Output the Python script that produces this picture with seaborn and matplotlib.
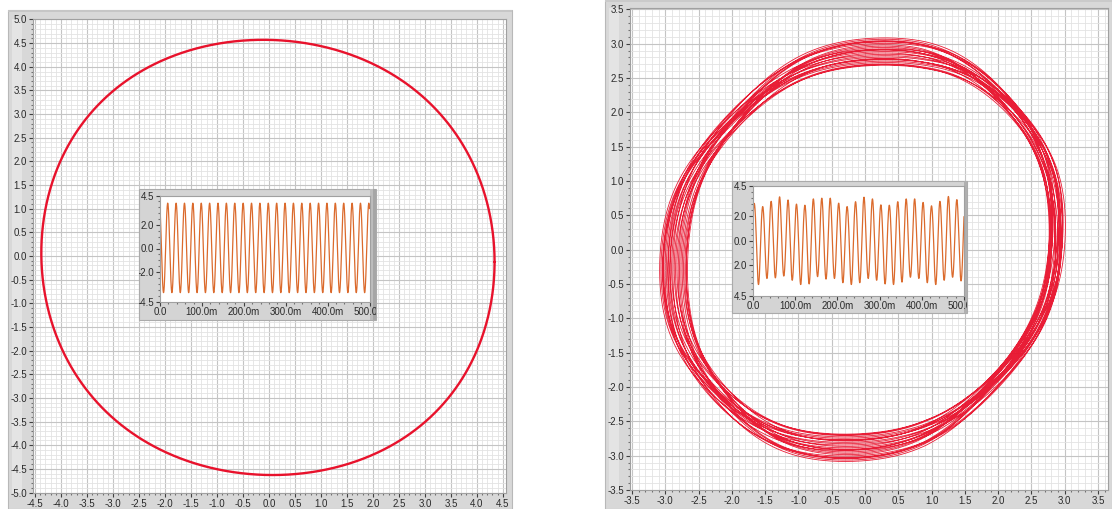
import numpy as np
import seaborn as sns
import matplotlib
matplotlib.use("Agg")
import matplotlib.pyplot as plt
from matplotlib.patches import Rectangle
from matplotlib.ticker import MultipleLocator, FuncFormatter
from matplotlib.transforms import Bbox, TransformedBbox

# ------------------------------------------------------------------
# Acquisition: two channels sampled for 500 ms at a 50 Hz fundamental
# ------------------------------------------------------------------
wave_freq_hz = 50.0
record_ms = 500.0

# Left graph: clean, steady signal pair
left_x_amp = 4.36
left_y_amp = 4.60
left_center = [-0.02, -0.03]
left_phase_skew = -0.02
left_squareness = 0.008

left_wave_amp = 3.80
left_wave_offset = 0.05
left_wave_phase = 0.50

# Right graph: the same measurement with cycle-to-cycle amplitude drift
right_x_amp = [2.95, 2.78, 3.05, 2.70, 2.88, 3.10, 2.82, 2.74, 3.00, 2.92,
               2.68, 2.97, 3.08, 2.80, 2.86, 3.04, 2.72, 2.90, 3.06, 2.76,
               2.84, 3.02, 2.94, 2.70, 2.98]
right_y_amp = [2.90, 3.05, 2.76, 2.98, 2.72, 2.86, 3.08, 2.80, 2.94, 2.70,
               3.00, 2.84, 2.78, 3.06, 2.92, 2.74, 2.96, 3.10, 2.82, 2.88,
               2.71, 3.02, 2.79, 2.93, 3.04]
right_phase_skew = 0.10
right_seventh_harmonic = -0.005

right_wave_peaks = [3.07, 2.81, 3.24, 3.61, 3.35, 3.01, 2.92, 3.44, 3.50, 3.50,
                    3.09, 2.81, 3.21, 3.58, 3.44, 2.95, 2.92, 3.21, 3.44, 3.44,
                    3.15, 2.87, 3.24, 3.64, 3.38]
right_wave_troughs = [-3.60, -3.10, -3.05, -2.90, -3.25, -3.60, -3.55, -2.95, -3.15, -3.10,
                      -3.45, -3.60, -3.45, -3.10, -3.25, -3.55, -3.60, -3.40, -3.00, -3.10,
                      -3.45, -3.60, -3.25, -3.00, -3.30]
right_wave_first_peak_ms = 3.0

# Axis ticks
inset_x_ticks = [0, 100, 200, 300, 400, 500]
inset_x_labels = ["0.0", "100.0m", "200.0m", "300.0m", "400.0m", "500.0m"]
inset_y_ticks = [-4.5, -2.0, 0.0, 2.0, 4.5]
left_inset_y_labels = ["-4.5", "-2.0", "0.0", "2.0", "4.5"]
right_inset_y_labels = ["4.5", "2.0", "0.0", "2.0", "4.5"]

# ------------------------------------------------------------------
W, H = 1112, 509
TRACE_RED = "#e8122c"
WAVE_ORANGE = "#db6a2c"
FRAME = "#d8d8d8"

sns.set_theme(style="white")
plt.rcParams["font.family"] = ["Liberation Sans Narrow", "Liberation Sans", "DejaVu Sans"]
plt.rcParams["axes.unicode_minus"] = False

fig = plt.figure(figsize=(W / 100, H / 100), dpi=100)
fig.patch.set_facecolor("white")


def fig_rect(x0, y0, x1, y1):
    return [x0 / W, 1 - y1 / H, (x1 - x0) / W, (y1 - y0) / H]


def add_box(x0, y0, x1, y1, color, z, edge="none", lw=0.8):
    r = Rectangle((x0 / W, 1 - y1 / H), (x1 - x0) / W, (y1 - y0) / H,
                  transform=fig.transFigure, facecolor=color, edgecolor=edge,
                  lw=lw, zorder=z)
    fig.add_artist(r)
    return r


fmt1 = FuncFormatter(lambda v, p: ("%.1f" % v).replace("-0.0", "0.0"))


def style_main(ax, xlim, ylim):
    ax.set_xlim(*xlim)
    ax.set_ylim(*ylim)
    ax.set_facecolor("white")
    for a in (ax.xaxis, ax.yaxis):
        a.set_major_locator(MultipleLocator(0.5))
        a.set_minor_locator(MultipleLocator(0.1))
        a.set_major_formatter(fmt1)
    ax.grid(which="major", color="#c4c4c4", lw=0.8)
    ax.grid(which="minor", color="#e3e3e3", lw=0.6)
    ax.set_axisbelow(True)
    ax.tick_params(which="major", direction="out", length=3, width=0.8,
                   color="#404040", labelsize=7, pad=1.2, labelcolor="#2a2a2a",
                   bottom=True, left=True)
    ax.tick_params(which="minor", direction="out", length=1.6, width=0.8,
                   color="#707070", bottom=True, left=True)
    for s in ax.spines.values():
        s.set_color("#a0a0a0")
        s.set_linewidth(0.8)
    ax.set_xlabel("")
    ax.set_ylabel("")


def style_inset(ax, ylabels):
    ax.set_xlim(0, record_ms)
    ax.set_ylim(-4.5, 4.5)
    ax.set_facecolor("white")
    ax.set_xticks(inset_x_ticks)
    ax.set_xticklabels(inset_x_labels)
    ax.set_yticks(inset_y_ticks)
    ax.set_yticklabels(ylabels)
    ax.xaxis.set_minor_locator(MultipleLocator(20))
    ax.yaxis.set_minor_locator(MultipleLocator(0.5))
    ax.grid(False)
    ax.tick_params(which="major", direction="out", length=3, width=0.8,
                   color="#404040", labelsize=7, pad=1.2, labelcolor="#2a2a2a",
                   bottom=True, left=True)
    ax.tick_params(which="minor", direction="out", length=1.6, width=0.8,
                   color="#707070", bottom=True, left=True)
    for s in ax.spines.values():
        s.set_color("#a0a0a0")
        s.set_linewidth(0.8)
    ax.set_xlabel("")
    ax.set_ylabel("")


# ---------------- panel frames ----------------
add_box(8, 10, 512, 509, FRAME, -2, edge="#b8b8b8")
add_box(8, 10, 512, 12, "#c6c6c6", -1.9)
add_box(12, 19, 22, 493, "#e4e4e4", -1.8)
add_box(605, 0, 1112, 509, FRAME, -2, edge="#b8b8b8")
add_box(605, 0, 1112, 2, "#cacaca", -1.9)
add_box(609, 8, 619, 490, "#e4e4e4", -1.8)

# ---------------- left XY graph ----------------
ax_l = fig.add_axes(fig_rect(33, 19, 506, 493))
theta = np.linspace(0, 2 * np.pi, 1500)
s = left_squareness
lx = left_center[0] + left_x_amp * (np.cos(theta) - s * np.cos(3 * theta)) / (1 - s)
ph = theta + left_phase_skew
ly = left_center[1] + left_y_amp * (np.sin(ph) + s * np.sin(3 * ph)) / (1 - s)
sns.lineplot(x=lx, y=ly, sort=False, estimator=None, color=TRACE_RED, lw=1.7, ax=ax_l)
style_main(ax_l, (-4.54, 4.56), (-5.01, 5.01))

# ---------------- right XY graph ----------------
ax_r = fig.add_axes(fig_rect(630, 8, 1108, 490))
period = 1000.0 / wave_freq_hz
t = np.linspace(0, record_ms, 20000)
theta_r = 2 * np.pi * t / period
# each cycle holds its amplitude through its middle and blends into the next
k = np.arange(len(right_x_amp))
nodes_t = np.column_stack([k * period + 0.2 * period, k * period + 0.8 * period]).ravel()
ax_env = np.interp(t, nodes_t, np.repeat(right_x_amp, 2))
ay_env = np.interp(t, nodes_t, np.repeat(right_y_amp, 2))
h = right_seventh_harmonic
rx = ax_env * (np.cos(theta_r) + h * np.cos(7 * theta_r))
ph = theta_r + right_phase_skew
ry = ay_env * (np.sin(ph) - h * np.sin(7 * ph))
sns.lineplot(x=rx, y=ry, sort=False, estimator=None, color=TRACE_RED, lw=0.6,
             alpha=0.95, ax=ax_r)
style_main(ax_r, (-3.53, 3.65), (-3.50, 3.52))

# ---------------- insets: one channel against time ----------------
left_in_frame = (139, 189, 376, 320)
right_in_frame = (732, 181, 967, 313)

add_box(*left_in_frame, "#d4d4d4", 0.5, edge="#ababab")
add_box(369.5, 189, 376, 320, "#bdbdbd", 0.6)
add_box(373, 189, 376, 320, "#a6a6a6", 0.65)
add_box(*right_in_frame, "#d4d4d4", 0.5, edge="#ababab")
add_box(964, 181, 967, 313, "#b0b0b0", 0.6)

ax_li = fig.add_axes(fig_rect(160, 195.5, 369.5, 301.5))
ax_li.set_zorder(1)
tw = np.linspace(0, record_ms, 4000)
lw_sig = left_wave_offset + left_wave_amp * np.cos(
    2 * np.pi * wave_freq_hz * tw / 1000.0 + left_wave_phase)
sns.lineplot(x=tw, y=lw_sig, sort=False, estimator=None, color=WAVE_ORANGE, lw=0.9, ax=ax_li)
style_inset(ax_li, left_inset_y_labels)

ax_ri = fig.add_axes(fig_rect(753, 186, 964, 295.5))
ax_ri.set_zorder(1)
rel = tw - right_wave_first_peak_ms
c = np.cos(2 * np.pi * rel / period)
n = len(right_wave_peaks)
kp = np.clip(np.round(rel / period).astype(int), 0, n - 1)
kt = np.clip(np.floor(rel / period).astype(int), 0, n - 1)
peaks = np.asarray(right_wave_peaks)
troughs = np.asarray(right_wave_troughs)
rw_sig = np.where(c >= 0, c * peaks[kp], -c * troughs[kt])
sns.lineplot(x=tw, y=rw_sig, sort=False, estimator=None, color=WAVE_ORANGE, lw=0.9, ax=ax_ri)
style_inset(ax_ri, right_inset_y_labels)

# clip the inset tick labels to their frames
fig.canvas.draw()
for ax_in, (x0, y0, x1, y1) in ((ax_li, left_in_frame), (ax_ri, right_in_frame)):
    box = TransformedBbox(Bbox.from_extents(x0 / W, 1 - y1 / H, x1 / W, 1 - y0 / H),
                          fig.transFigure)
    for lbl in ax_in.get_xticklabels() + ax_in.get_yticklabels():
        lbl.set_clip_box(box)
        lbl.set_clip_on(True)

fig.savefig("out.png", dpi=100, facecolor="white")
